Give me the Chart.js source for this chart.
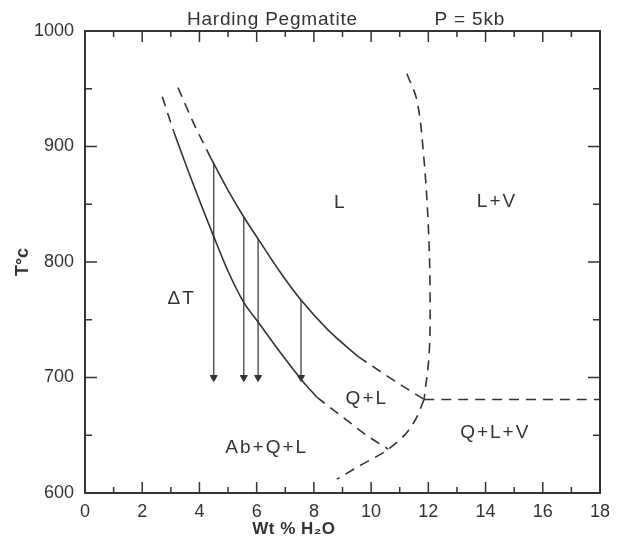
<!DOCTYPE html>
<html>
<head>
<meta charset="utf-8">
<script src="https://cdn.jsdelivr.net/npm/chart.js@4"></script>
<style>
  body { margin: 0; background: #fff; }
</style>
</head>
<body>
<canvas id="chart" width="627" height="540"></canvas>
<script>
// curve points (Wt % H2O, T in C)
const upperDashTop = [{x: 3.25, y: 951}, {x: 3.8, y: 920}, {x: 4.4, y: 890}];
const upperSolid = [{x: 4.4, y: 890}, {x: 5.0, y: 862}, {x: 5.55, y: 839}, {x: 6.05, y: 820}, {x: 6.8, y: 792}, {x: 7.55, y: 767}, {x: 8.5, y: 741}, {x: 9.55, y: 718}];
const upperDashTail = [{x: 9.55, y: 718}, {x: 10.7, y: 699}, {x: 11.85, y: 681}];
const lowerDashTop = [{x: 2.7, y: 943}, {x: 2.9, y: 928}, {x: 3.1, y: 913}];
const lowerSolid = [{x: 3.1, y: 913}, {x: 3.65, y: 876}, {x: 4.5, y: 822}, {x: 5.0, y: 792}, {x: 5.55, y: 765}, {x: 6.05, y: 748}, {x: 7.0, y: 716}, {x: 7.6, y: 697}, {x: 8.1, y: 683}];
const lowerDashTail = [{x: 8.1, y: 683}, {x: 9.15, y: 663}, {x: 9.9, y: 649}, {x: 10.6, y: 638}];
const vaporCurve = [{x: 11.25, y: 963}, {x: 11.6, y: 940}, {x: 11.83, y: 894}, {x: 12.0, y: 831}, {x: 12.06, y: 773}, {x: 12.03, y: 721}, {x: 11.85, y: 681}];
const vaporFoot = [{x: 11.85, y: 681}, {x: 11.6, y: 666}, {x: 11.3, y: 654}, {x: 10.6, y: 638}, {x: 9.7, y: 625}, {x: 8.8, y: 612}];
const vaporLine = [{x: 11.85, y: 681}, {x: 18, y: 681}];

// delta-T arrows
const arrowX = [4.5, 5.55, 6.05, 7.55];
const arrowTop = [886, 839, 820, 767];
const arrowBottom = 700;

const xTicks = [0, 2, 4, 6, 8, 10, 12, 14, 16, 18];
const yTicks = [600, 700, 800, 900, 1000];

const fieldLabels = [
    {text: 'L', x: 8.92, y: 851},
    {text: 'L+V', x: 14.4, y: 852},
    {text: '\u0394T', x: 3.38, y: 768},
    {text: 'Q+L', x: 9.85, y: 682},
    {text: 'Q+L+V', x: 14.34, y: 652},
    {text: 'Ab+Q+L', x: 6.35, y: 639}
];
const titleLeft = {text: 'Harding Pegmatite', x: 6.55};
const titleRight = {text: 'P = 5kb', x: 13.45};
const xTitle = {text: 'Wt % H\u2082O', x: 7.3};

const ink = '#333';
const fontFam = '"Liberation Sans", Arial, sans-serif';

function curve(data, dashed, smooth) {
    return {
        data: data,
        showLine: true,
        borderColor: ink,
        borderWidth: 1.6,
        borderDash: dashed ? [10, 7] : [],
        pointRadius: 0,
        cubicInterpolationMode: smooth ? 'monotone' : 'default',
        tension: 0.35,
        fill: false
    };
}

const datasets = [
    curve(upperDashTop, true, true),
    curve(upperSolid, false, true),
    curve(upperDashTail, true, true),
    curve(lowerDashTop, true, true),
    curve(lowerSolid, false, true),
    curve(lowerDashTail, true, true),
    curve(vaporCurve, true, false),
    curve(vaporFoot, true, true),
    curve(vaporLine, true, false)
];

arrowX.forEach((x, i) => {
    datasets.push({
        data: [{x: x, y: arrowTop[i]}, {x: x, y: arrowBottom}],
        showLine: true,
        borderColor: ink,
        borderWidth: 1.2,
        tension: 0,
        pointStyle: 'triangle',
        pointRadius: [0, 4],
        pointRotation: 180,
        pointBackgroundColor: ink,
        pointBorderColor: ink,
        pointBorderWidth: 1
    });
});

const framePlugin = {
    id: 'frame',
    afterDatasetsDraw(chart) {
        const ctx = chart.ctx;
        const a = chart.chartArea;
        const xs = chart.scales.x;
        const ys = chart.scales.y;
        ctx.save();
        ctx.strokeStyle = ink;
        ctx.lineWidth = 2;
        ctx.strokeRect(a.left, a.top, a.right - a.left, a.bottom - a.top);

        // inward ticks on all four sides
        ctx.lineWidth = 1.5;
        ctx.beginPath();
        for (let v = xs.min; v <= xs.max; v += 1) {
            const px = xs.getPixelForValue(v);
            const len = v % 2 === 0 ? 11 : 6;
            ctx.moveTo(px, a.bottom); ctx.lineTo(px, a.bottom - len);
            ctx.moveTo(px, a.top); ctx.lineTo(px, a.top + len);
        }
        for (let v = ys.min; v <= ys.max; v += 50) {
            const py = ys.getPixelForValue(v);
            const len = v % 100 === 0 ? 12 : 7;
            ctx.moveTo(a.left, py); ctx.lineTo(a.left + len, py);
            ctx.moveTo(a.right, py); ctx.lineTo(a.right - len, py);
        }
        ctx.stroke();

        ctx.fillStyle = ink;
        ctx.textAlign = 'center';
        ctx.textBaseline = 'middle';
        ctx.letterSpacing = '2px';
        ctx.font = '19px ' + fontFam;
        fieldLabels.forEach(l => {
            ctx.fillText(l.text, xs.getPixelForValue(l.x), ys.getPixelForValue(l.y));
        });
        ctx.letterSpacing = '0.8px';
        ctx.font = '19px ' + fontFam;
        ctx.fillText(titleLeft.text, xs.getPixelForValue(titleLeft.x), a.top - 11);
        ctx.fillText(titleRight.text, xs.getPixelForValue(titleRight.x), a.top - 11);
        ctx.letterSpacing = '0.5px';
        ctx.font = 'bold 17px ' + fontFam;
        ctx.fillText(xTitle.text, xs.getPixelForValue(xTitle.x), a.bottom + 36);
        ctx.restore();
    }
};

new Chart(document.getElementById('chart'), {
    type: 'scatter',
    data: {datasets: datasets},
    options: {
        responsive: false,
        animation: false,
        layout: {padding: {top: 31, right: 27, left: 0, bottom: 0}},
        plugins: {legend: {display: false}, tooltip: {enabled: false}},
        scales: {
            x: {
                min: 0, max: 18,
                afterBuildTicks: s => { s.ticks = xTicks.map(v => ({value: v})); },
                afterFit: s => { s.height = 47; },
                grid: {display: false, drawTicks: false},
                border: {display: false},
                ticks: {color: ink, padding: 8, font: {size: 18, family: fontFam}, maxRotation: 0, callback: v => String(v)}
            },
            y: {
                min: 600, max: 1000,
                afterBuildTicks: s => { s.ticks = yTicks.map(v => ({value: v})); },
                afterFit: s => { s.width = 85; },
                grid: {display: false, drawTicks: false},
                border: {display: false},
                ticks: {color: ink, padding: 11, font: {size: 18, family: fontFam}, callback: v => String(v)},
                title: {display: true, text: 'T\u00B0c', color: ink, padding: {top: 12, bottom: 0}, font: {size: 18, family: fontFam, weight: 'bold'}}
            }
        }
    },
    plugins: [framePlugin]
});
</script>
</body>
</html>
